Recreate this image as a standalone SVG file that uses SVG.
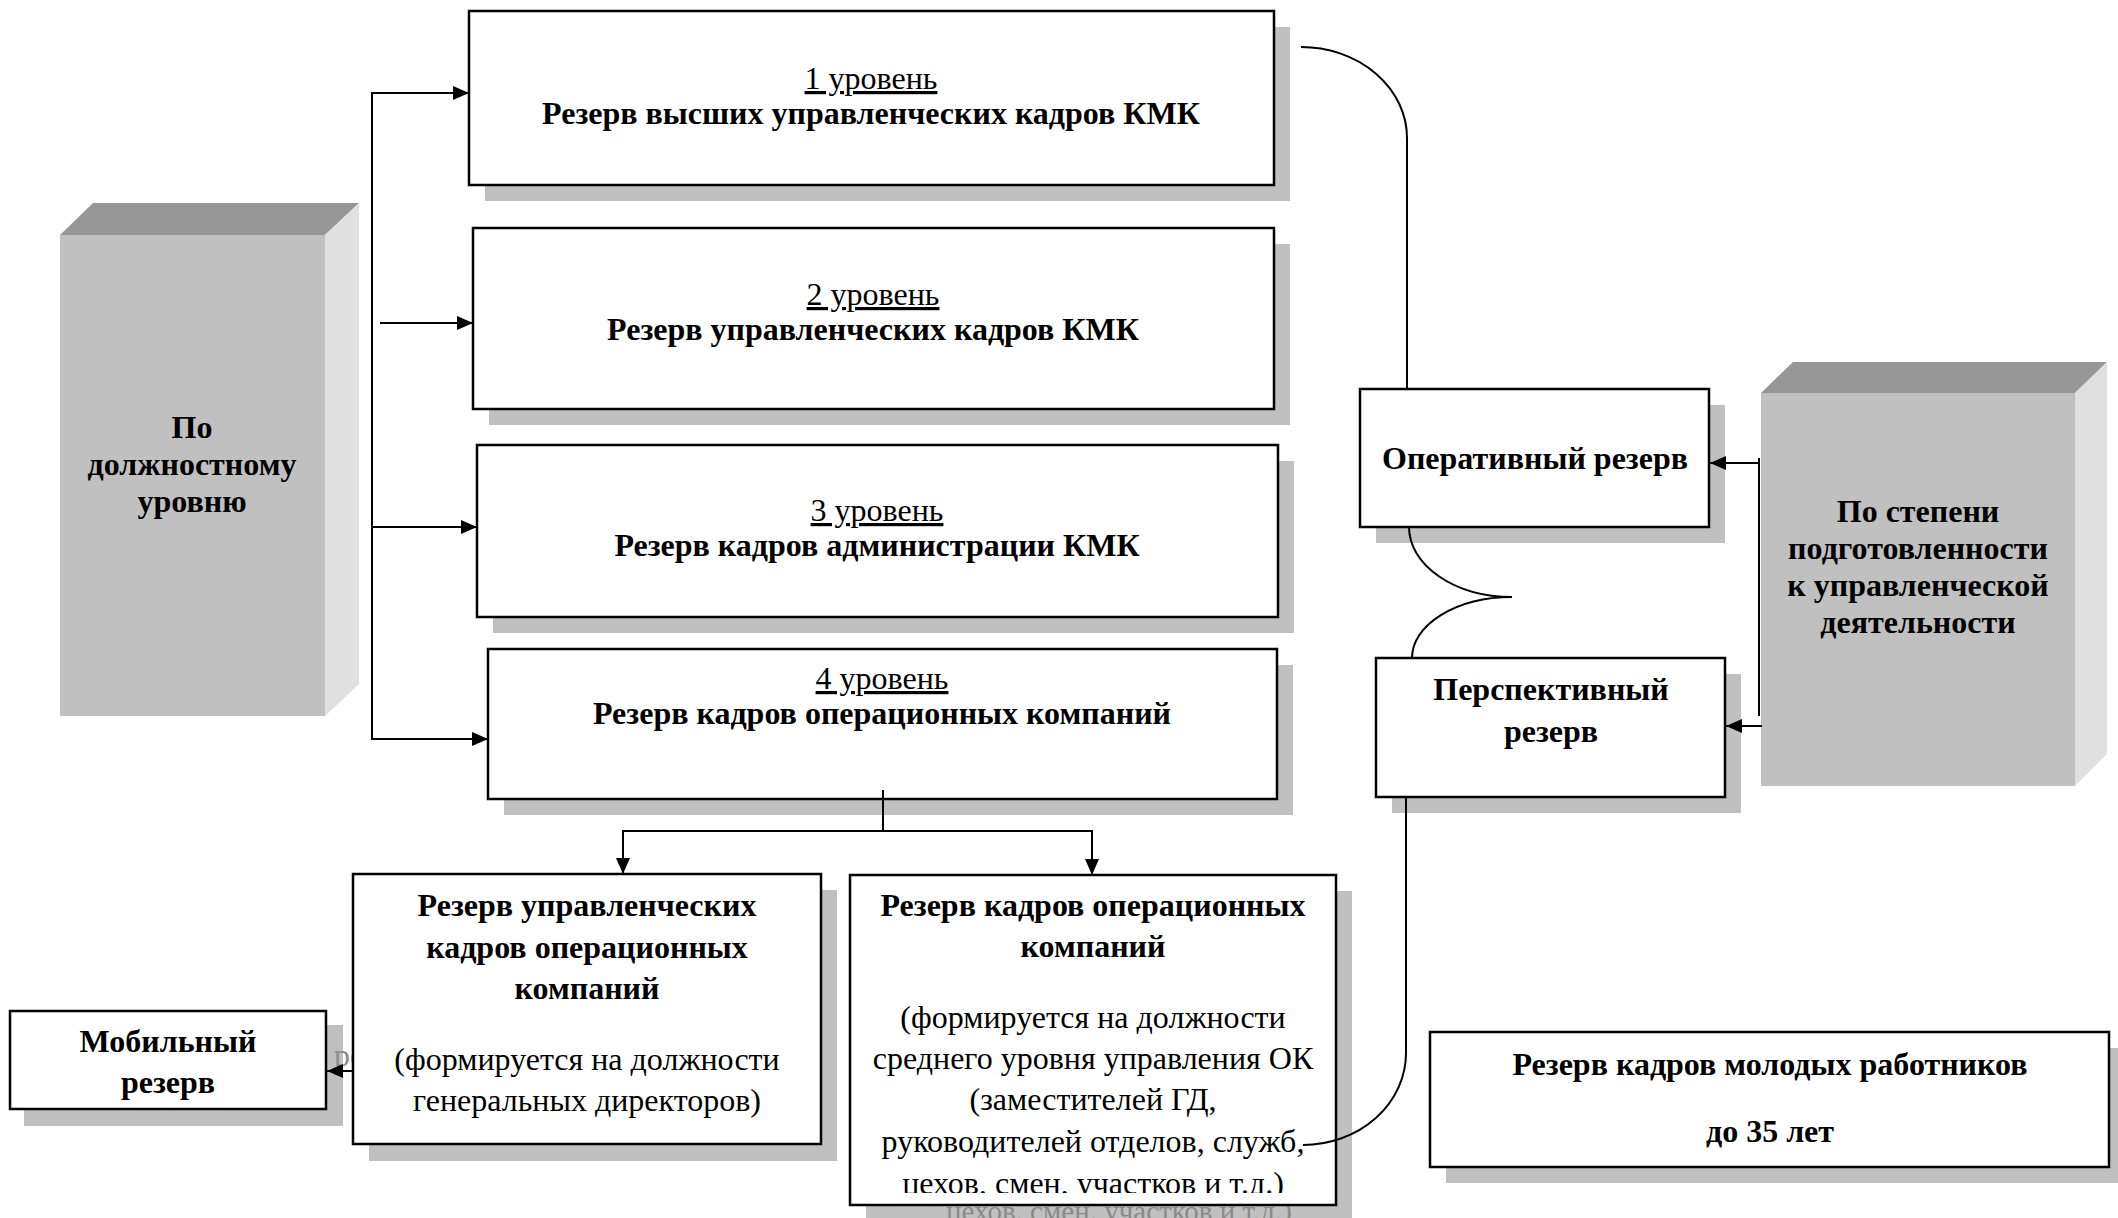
<svg xmlns="http://www.w3.org/2000/svg" width="2118" height="1218" viewBox="0 0 2118 1218">
<style>
.box{fill:#fff;stroke:#000;stroke-width:2.5}
.sh{fill:#c0c0c0}
.t{font-family:"Liberation Serif","Times New Roman",serif;font-size:32px;fill:#000;text-anchor:middle}
.b{font-weight:bold}
.u{text-decoration:underline}
.ghost{font-family:"Liberation Serif","Times New Roman",serif;font-size:32px;fill:#8a8a8a}
.ln{fill:none;stroke:#000;stroke-width:2}
.front{fill:#c0c0c0}
.top{fill:#969696}
.side{fill:#e0e0e0}
</style>
<defs>
<marker id="ah" markerWidth="16" markerHeight="14" refX="16" refY="7" orient="auto" markerUnits="userSpaceOnUse">
<path d="M0,0 L16,7 L0,14 Z" fill="#000"/>
</marker>
<clipPath id="clipLast"><rect x="850" y="1160" width="486" height="33"/></clipPath>
</defs>
<rect width="2118" height="1218" fill="#fff"/>

<g id="shadows">
<rect class="sh" x="485" y="27" width="805" height="174"/>
<rect class="sh" x="489" y="244" width="801" height="181"/>
<rect class="sh" x="493" y="461" width="801" height="172"/>
<rect class="sh" x="504" y="665" width="789" height="150"/>
<rect class="sh" x="1376" y="405" width="349" height="138"/>
<rect class="sh" x="1392" y="674" width="349" height="139"/>
<rect class="sh" x="24" y="1025" width="319" height="101"/>
<rect class="sh" x="369" y="890" width="468" height="271"/>
<rect class="sh" x="866" y="891" width="486" height="330"/>
<rect class="sh" x="1446" y="1048" width="680" height="135"/>
</g>

<g id="ghost-text">
<text class="ghost" x="334" y="1066">ре</text>
<text class="ghost" x="1119" y="1221" style="text-anchor:middle;font-size:29px">цехов. смен. участков и т.д.)</text>
</g>

<g id="node-level-position">
<polygon class="top" points="60,235 93,203 359,203 325,235"/>
<polygon class="side" points="325,235 359,203 359,684 325,716"/>
<rect class="front" x="60" y="235" width="265" height="481"/>
<text class="t b" x="192" y="438">По</text>
<text class="t b" x="192" y="475">должностному</text>
<text class="t b" x="192" y="512">уровню</text>
</g>

<g id="node-level1">
<rect class="box" x="469" y="11" width="805" height="174"/>
<text class="t u" x="871" y="89">1 уровень</text>
<text class="t b" x="871" y="124">Резерв высших управленческих кадров КМК</text>
</g>

<g id="node-level2">
<rect class="box" x="473" y="228" width="801" height="181"/>
<text class="t u" x="873" y="305">2 уровень</text>
<text class="t b" x="873" y="340">Резерв управленческих кадров КМК</text>
</g>

<g id="node-level3">
<rect class="box" x="477" y="445" width="801" height="172"/>
<text class="t u" x="877" y="521">3 уровень</text>
<text class="t b" x="877" y="556">Резерв кадров администрации КМК</text>
</g>

<g id="node-level4">
<rect class="box" x="488" y="649" width="789" height="150"/>
<text class="t u" x="882" y="689">4 уровень</text>
<text class="t b" x="882" y="724">Резерв кадров операционных компаний</text>
</g>

<g id="node-oper">
<rect class="box" x="1360" y="389" width="349" height="138"/>
<text class="t b" x="1535" y="469">Оперативный резерв</text>
</g>

<g id="node-persp">
<rect class="box" x="1376" y="658" width="349" height="139"/>
<text class="t b" x="1551" y="700">Перспективный</text>
<text class="t b" x="1551" y="742">резерв</text>
</g>

<g id="node-readiness">
<polygon class="top" points="1761,393 1793,362 2107,362 2075,393"/>
<polygon class="side" points="2075,393 2107,362 2107,754 2075,786"/>
<rect class="front" x="1761" y="393" width="314" height="393"/>
<text class="t b" x="1918" y="522">По степени</text>
<text class="t b" x="1918" y="559">подготовленности</text>
<text class="t b" x="1918" y="596">к управленческой</text>
<text class="t b" x="1918" y="633">деятельности</text>
</g>

<g id="node-mobile">
<rect class="box" x="10" y="1011" width="316" height="98"/>
<text class="t b" x="168" y="1052">Мобильный</text>
<text class="t b" x="168" y="1093">резерв</text>
</g>

<g id="node-ok-mgmt">
<rect class="box" x="353" y="874" width="468" height="270"/>
<text class="t b" x="587" y="916">Резерв управленческих</text>
<text class="t b" x="587" y="958">кадров операционных</text>
<text class="t b" x="587" y="999">компаний</text>
<text class="t" x="587" y="1070">(формируется на должности</text>
<text class="t" x="587" y="1111">генеральных директоров)</text>
</g>

<g id="node-ok-staff">
<rect class="box" x="850" y="875" width="486" height="330"/>
<text class="t b" x="1093" y="916">Резерв кадров операционных</text>
<text class="t b" x="1093" y="957">компаний</text>
<text class="t" x="1093" y="1028">(формируется на должности</text>
<text class="t" x="1093" y="1069">среднего уровня управления ОК</text>
<text class="t" x="1093" y="1110">(заместителей ГД,</text>
<text class="t" x="1093" y="1152">руководителей отделов, служб,</text>
<text class="t" x="1093" y="1194" clip-path="url(#clipLast)">цехов, смен, участков и т.д.)</text>
</g>

<g id="node-young">
<rect class="box" x="1430" y="1032" width="679" height="135"/>
<text class="t b" x="1770" y="1075">Резерв кадров молодых работников</text>
<text class="t b" x="1770" y="1142">до 35 лет</text>
</g>

<g id="connectors">
<line class="ln" x1="372" y1="92" x2="372" y2="740"/>
<line class="ln" x1="371" y1="93" x2="469" y2="93" marker-end="url(#ah)"/>
<line class="ln" x1="380" y1="323" x2="473" y2="323" marker-end="url(#ah)"/>
<line class="ln" x1="371" y1="527" x2="477" y2="527" marker-end="url(#ah)"/>
<line class="ln" x1="371" y1="739" x2="488" y2="739" marker-end="url(#ah)"/>
<line class="ln" x1="883" y1="790" x2="883" y2="831"/>
<line class="ln" x1="622" y1="831" x2="1093" y2="831"/>
<line class="ln" x1="623" y1="830" x2="623" y2="874" marker-end="url(#ah)"/>
<line class="ln" x1="1092" y1="830" x2="1092" y2="875" marker-end="url(#ah)"/>
<line class="ln" x1="353" y1="1071" x2="327" y2="1071" marker-end="url(#ah)"/>
<line class="ln" x1="1759" y1="458" x2="1759" y2="716"/>
<line class="ln" x1="1760" y1="463" x2="1710" y2="463" marker-end="url(#ah)"/>
<line class="ln" x1="1762" y1="726" x2="1726" y2="726" marker-end="url(#ah)"/>
<path class="ln" d="M1301,47 A106,91 0 0 1 1407,138 V389"/>
<path class="ln" d="M1409,527 A103,70 0 0 0 1512,597"/>
<path class="ln" d="M1512,597 A100,61 0 0 0 1412,658"/>
<path class="ln" d="M1406,797 V1053 A103,92 0 0 1 1303,1145"/>
</g>
</svg>
